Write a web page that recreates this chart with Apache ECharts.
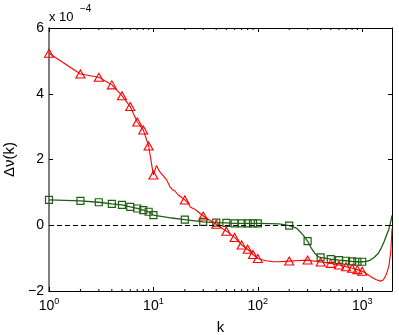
<!DOCTYPE html>
<html>
<head>
<meta charset="utf-8">
<script src="https://cdn.jsdelivr.net/npm/echarts@6/dist/echarts.min.js"></script>
<style>
  html, body { margin: 0; padding: 0; background: #fff; }
  #main { width: 399px; height: 335px; }
</style>
</head>
<body>
<div id="main"></div>
<script>
// values in units of 1e-4
let markK = [1, 2, 3, 4, 5, 6, 7, 8, 9, 10, 20, 30, 40, 50, 60, 70, 80, 90, 100, 200, 300, 400, 500, 600, 700, 800, 900, 1000]
let redMark = [5.23, 4.6, 4.5, 4.27, 3.94, 3.61, 3.14, 2.9, 2.41, 1.53,
               0.77, 0.28, 0.03, -0.18, -0.37, -0.6, -0.73, -0.89, -1.01,
               -1.09, -1.06, -1.12, -1.16, -1.21, -1.26, -1.31, -1.35, -1.4]
let greenMark = [0.77, 0.74, 0.70, 0.65, 0.62, 0.56, 0.51, 0.46, 0.41, 0.31,
                 0.17, 0.10, 0.08, 0.07, 0.06, 0.06, 0.06, 0.06, 0.06,
                 -0.01, -0.48, -0.98, -1.03, -1.06, -1.08, -1.10, -1.11, -1.11]
// curve points between the markers
let redExtraK = [10.7, 11.5, 13.4, 14.4, 15.2, 16.0, 17.3, 18.6, 21.5, 22.7, 24.9, 26.8,
                 110, 120, 140, 160, 250, 1100, 1200, 1350, 1500, 1600, 1700, 1800, 1880, 1930]
let redExtraV = [1.82, 1.63, 1.38, 1.17, 1.09, 1.05, 0.92, 0.85, 0.67, 0.55, 0.49, 0.41,
                 -1.05, -1.08, -1.11, -1.11, -1.07, -1.47, -1.56, -1.65, -1.70, -1.66, -1.5, -1.25, -0.8, -0.1]
let greenExtraK = [15, 130, 160, 236, 272, 326, 351, 380, 1100, 1200, 1300, 1430, 1530, 1620, 1720, 1800, 1870, 1930]
let greenExtraV = [0.22, 0.05, 0.04, -0.09, -0.30, -0.70, -0.85, -0.96, -1.10, -1.06, -0.98, -0.85, -0.68, -0.5, -0.28, -0.12, 0.08, 0.3]
let minorK = [2, 3, 4, 5, 6, 7, 8, 9, 20, 30, 40, 50, 60, 70, 80, 90, 200, 300, 400, 500, 600, 700, 800, 900]

let xMin = 1, xMax = 1930
let yMin = -2, yMax = 6

const FONT = "'Liberation Sans', Arial, sans-serif"
const RED = '#ff0000'
const GREEN = '#1f5f14'

function mergeCurve(k1, v1, k2, v2) {
    let pts = []
    for (let i = 0; i < k1.length; i++) pts.push([k1[i], v1[i]])
    for (let i = 0; i < k2.length; i++) pts.push([k2[i], v2[i]])
    pts.sort((a, b) => a[0] - b[0])
    return pts
}

let redLine = mergeCurve(markK, redMark, redExtraK, redExtraV)
let greenLine = mergeCurve(markK, greenMark, greenExtraK, greenExtraV)

let chart = echarts.init(document.getElementById('main'))

let logLabel = function (v) {
    let e = Math.round(Math.log10(v))
    if (Math.abs(Math.log10(v) - e) > 1e-6) return ''
    return '{b|10}{s|' + e + '}'
}

let xCommon = {
    type: 'log',
    logBase: 10,
    min: xMin,
    max: xMax,
    axisLine: { show: true, onZero: false, lineStyle: { color: '#000', width: 1 } },
    axisTick: { show: true, inside: true, length: 4, lineStyle: { color: '#000' } },
    splitLine: { show: false },
    minorTick: { show: false },
    minorSplitLine: { show: false }
}

chart.setOption({
    animation: false,
    backgroundColor: '#fff',
    grid: { left: 49, right: 7, top: 28, bottom: 44, containLabel: false, outerBoundsMode: 'none' },
    graphic: [
        { type: 'text', left: 49, top: 11, style: { text: 'x 10', font: '13px ' + FONT, fill: '#000' } },
        { type: 'text', left: 80, top: 4, style: { text: '\u22124', font: '10px ' + FONT, fill: '#000' } }
    ],
    xAxis: [
        Object.assign({}, xCommon, {
            position: 'bottom',
            name: 'k',
            nameLocation: 'middle',
            nameGap: 29,
            nameTextStyle: { fontSize: 15, fontFamily: FONT, color: '#000' },
            axisLabel: {
                show: true, margin: 6, color: '#000', fontFamily: FONT,
                showMaxLabel: false,
                formatter: logLabel,
                rich: {
                    b: { fontSize: 14, fontFamily: FONT, color: '#000' },
                    s: { fontSize: 9, fontFamily: FONT, color: '#000', padding: [0, 0, 9, 0] }
                }
            }
        }),
        Object.assign({}, xCommon, {
            position: 'top',
            axisLabel: { show: false }
        })
    ],
    yAxis: [
        {
            type: 'value',
            min: yMin, max: yMax, interval: 2,
            position: 'left',
            name: '\u0394\u03bd(k)',
            nameLocation: 'middle',
            nameRotate: 90,
            nameGap: 28,
            nameTextStyle: { fontSize: 15, fontFamily: FONT, color: '#000' },
            axisLine: { show: true, onZero: false, lineStyle: { color: '#808080', width: 2 } },
            axisTick: { show: true, inside: true, length: 4, lineStyle: { color: '#000' } },
            axisLabel: {
                margin: 5, fontSize: 14, fontFamily: FONT, color: '#000',
                formatter: v => (v < 0 ? '\u2212' + Math.abs(v) : '' + v)
            },
            splitLine: { show: false }
        },
        {
            type: 'value',
            min: yMin, max: yMax, interval: 2,
            position: 'right',
            axisLine: { show: true, onZero: false, lineStyle: { color: '#000', width: 1 } },
            axisTick: { show: true, inside: true, length: 4, lineStyle: { color: '#000' } },
            axisLabel: { show: false },
            splitLine: { show: false }
        }
    ],
    series: [
        {
            // minor ticks of the log axis, bottom and top
            type: 'custom',
            silent: true,
            xAxisIndex: 0, yAxisIndex: 0,
            data: minorK.map(k => [k, 0]),
            renderItem: function (params, api) {
                let pb = api.coord([api.value(0), yMin])
                let pt = api.coord([api.value(0), yMax])
                return {
                    type: 'group',
                    children: [
                        { type: 'line', shape: { x1: pb[0], y1: pb[1], x2: pb[0], y2: pb[1] - 2 }, style: { stroke: '#000', lineWidth: 1 } },
                        { type: 'line', shape: { x1: pt[0], y1: pt[1], x2: pt[0], y2: pt[1] + 2 }, style: { stroke: '#000', lineWidth: 1 } }
                    ]
                }
            }
        },
        {
            name: 'green line',
            type: 'line',
            data: greenLine,
            showSymbol: false,
            lineStyle: { color: GREEN, width: 1.3 },
            markLine: {
                silent: true,
                symbol: 'none',
                label: { show: false },
                lineStyle: { color: '#000', type: [5, 3], width: 1 },
                data: [{ yAxis: 0 }]
            }
        },
        {
            name: 'green marks',
            type: 'scatter',
            data: markK.map((k, i) => [k, greenMark[i]]),
            symbol: 'rect',
            symbolSize: 7,
            itemStyle: { color: 'rgba(0,0,0,0)', borderColor: GREEN, borderWidth: 1.2, opacity: 1 }
        },
        {
            name: 'red line',
            type: 'line',
            data: redLine,
            showSymbol: false,
            lineStyle: { color: RED, width: 1.1 }
        },
        {
            name: 'red marks',
            type: 'scatter',
            data: markK.map((k, i) => [k, redMark[i]]),
            symbol: 'triangle',
            symbolSize: [9, 8],
            itemStyle: { color: 'rgba(0,0,0,0)', borderColor: RED, borderWidth: 1.1, opacity: 1 }
        }
    ]
})
</script>
</body>
</html>
